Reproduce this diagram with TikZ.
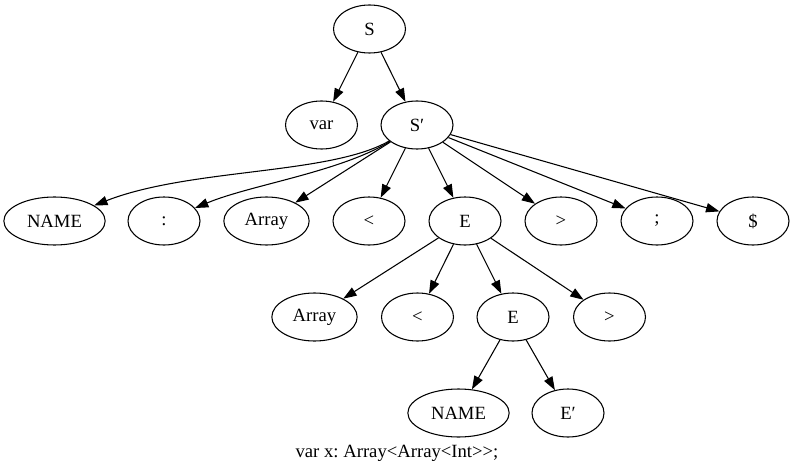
\documentclass[tikz,border=0pt]{standalone}
\usepackage{fontspec}
\setmainfont{Liberation Serif}
\frenchspacing
\usetikzlibrary{shapes.geometric,arrows.meta}
\tikzset{
  tnode/.style={draw,ellipse,line width=0.8pt,minimum width=54pt,minimum height=36pt,inner sep=1pt,font=\fontsize{14pt}{16pt}\selectfont},
  wide/.style={minimum width=76pt},
  mid/.style={minimum width=64pt},
  edge/.style={line width=0.8pt,-{Triangle[length=10pt,width=7pt]}}
}
\begin{document}
\begin{tikzpicture}[x=0.75pt,y=-0.75pt]
\useasboundingbox (0,0) rectangle (795,474);
% rank 1
\node[tnode] (S) at (369.5,29) {S};
% rank 2
\node[tnode] (var) at (321.5,125) {var};
\node[tnode] (Sp) at (417,125) {S′};
% rank 3
\node[tnode,wide] (name1) at (54.5,221) {NAME};
\node[tnode] (colon) at (164,221) {:};
\node[tnode,mid] (arr1) at (266.5,221) {Array};
\node[tnode] (lt1) at (369,221) {<};
\node[tnode] (E1) at (465,221) {E};
\node[tnode] (gt1) at (561,221) {>};
\node[tnode] (semi) at (657,221) {;};
\node[tnode] (dollar) at (753,221) {\$};
% rank 4
\node[tnode,mid] (arr2) at (314.5,317) {Array};
\node[tnode] (lt2) at (417.5,317) {<};
\node[tnode] (E2) at (513,317) {E};
\node[tnode] (gt2) at (609.5,317) {>};
% rank 5
\node[tnode,wide] (name2) at (458.5,413) {NAME};
\node[tnode] (Ep) at (568,413) {E′};
% caption
\node[font=\fontsize{14pt}{16pt}\selectfont,inner sep=0pt] (cap) at (397,453) {var x: Array<Array<Int>{}>;};
% edges
\draw[edge] (S) -- (var);
\draw[edge] (S) -- (Sp);
\draw[edge] (Sp) .. controls (330,175) and (190,168) .. (name1);
\draw[edge] (Sp) .. controls (340,172) and (250,185) .. (colon);
\draw[edge] (Sp) -- (arr1);
\draw[edge] (Sp) -- (lt1);
\draw[edge] (Sp) -- (E1);
\draw[edge] (Sp) -- (gt1);
\draw[edge] (Sp) -- (semi);
\draw[edge] (Sp) -- (dollar);
\draw[edge] (E1) -- (arr2);
\draw[edge] (E1) -- (lt2);
\draw[edge] (E1) -- (E2);
\draw[edge] (E1) -- (gt2);
\draw[edge] (E2) -- (name2);
\draw[edge] (E2) -- (Ep);
\end{tikzpicture}
\end{document}
